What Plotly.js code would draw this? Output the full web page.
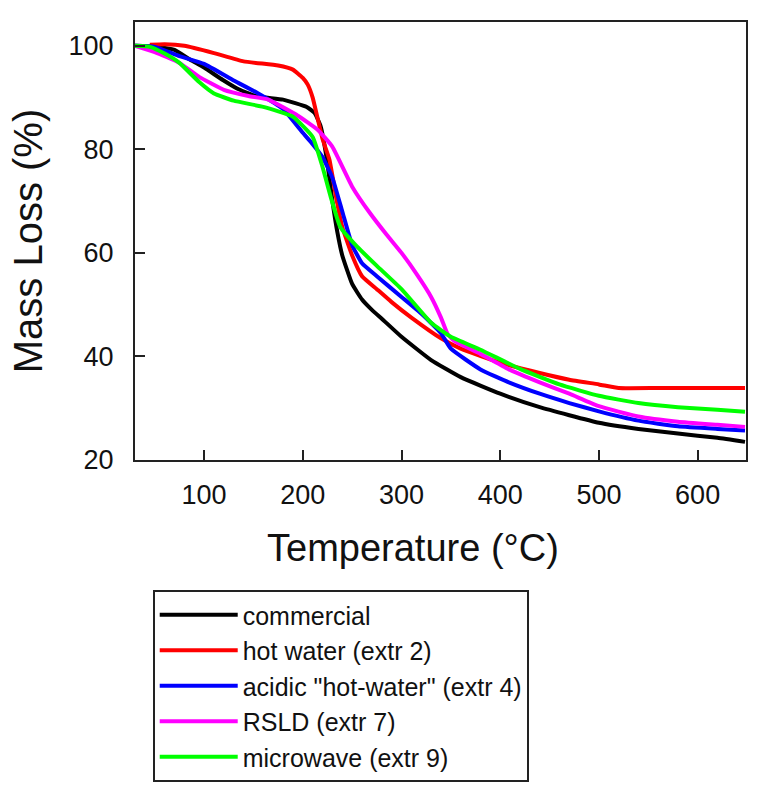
<!DOCTYPE html>
<html>
<head>
<meta charset="utf-8">
<script src="https://cdn.plot.ly/plotly-3.0.1.min.js"></script>
<style>body{margin:0;padding:0;background:#fff}#chart{width:761px;height:789px}</style>
</head>
<body>
<div id="chart"></div>
<script>
// Series names
var seriesNames = ["commercial", "hot water (extr 2)", "acidic \"hot-water\" (extr 4)", "RSLD (extr 7)", "microwave (extr 9)"];

// commercial
var commercialT = [30,50,70,86,100,119,135,154,180,204,212,218,224,230,235,240,250,260,270,280,300,330,360,400,440,500,540,580,620,648];
var commercialM = [100,99.8,99.2,97.3,95.8,93.4,91.6,90.2,89.6,88.2,87,84.5,78.5,70,64,59.5,54,51,49,47.3,43.8,39.3,36,32.8,30.2,27.2,26,25.1,24.3,23.5];

// hot water (extr 2)
var hotWaterT = [45,60,80,110,140,175,190,200,205,210,215,220,227,234,240,250,260,275,290,310,340,360,400,440,470,500,520,560,600,648];
var hotWaterM = [100.2,100.3,100,98.6,97,96.2,95.4,93.8,92.5,90,86,82,78,70.5,65,59.5,55.5,53,50.5,47.5,43.5,41.5,38.8,36.8,35.5,34.6,33.9,33.9,33.9,33.9];

// acidic "hot-water" (extr 4)
var acidicT = [30,50,75,100,130,154,180,200,210,220,230,240,250,260,275,300,320,340,350,380,410,440,470,500,540,580,620,648];
var acidicM = [100,99.8,98,96.5,93.3,90.9,87.8,83.2,81,78.5,74.5,68,61.5,58,55.5,51.5,48.3,44.5,41.5,37.5,34.9,32.8,31,29.4,27.6,26.5,26,25.7];

// RSLD (extr 7)
var rsldT = [30,50,75,95,120,145,165,195,215,230,250,268,285,300,315,330,340,347,355,380,410,440,470,500,540,580,620,648];
var rsldM = [100,98.8,96.7,94,91.5,90.3,89.6,86.5,83.8,80.5,72.8,67.7,63.5,60,56,51.5,47.5,44.2,42.8,40.5,37.4,35,32.8,30.4,28.4,27.4,26.8,26.4];

// microwave (extr 9)
var microT = [30,45,60,75,95,110,130,160,190,210,220,228,238,255,275,300,330,350,380,420,460,500,540,580,620,648];
var microM = [100,99.8,98.5,96.7,93,90.8,89.4,88.2,86.3,82.4,76.6,71,65,61.2,57.5,53,46.5,43.8,41.3,37.6,34.6,32.4,31,30.2,29.7,29.3];

var xTicks = [100,200,300,400,500,600];
var yTicks = [20,40,60,80,100];
var xTitle = "Temperature (°C)";
var yTitle = "Mass Loss (%)";

var colors = ["#000000", "#ff0000", "#0000ff", "#ff00ff", "#00ff00"];
var xs = [commercialT, hotWaterT, acidicT, rsldT, microT];
var ys = [commercialM, hotWaterM, acidicM, rsldM, microM];

var traces = [];
for (var i = 0; i < 5; i++) {
  traces.push({
    x: xs[i], y: ys[i], type: "scatter", mode: "lines", name: seriesNames[i],
    line: {color: colors[i], width: 4, shape: "spline", smoothing: 0.4}
  });
}

var layout = {
  width: 761, height: 789,
  margin: {l: 135, r: 15, t: 22, b: 329, autoexpand: false},
  paper_bgcolor: "#ffffff", plot_bgcolor: "#ffffff",
  font: {family: "Liberation Sans, Arial, sans-serif", color: "#111"},
  showlegend: true,
  legend: {
    x: 0.029, y: -0.297, xanchor: "left", yanchor: "top",
    bordercolor: "#222", borderwidth: 2, bgcolor: "#fff",
    font: {size: 25, family: "Liberation Sans, Arial, sans-serif", color: "#111"},
    tracegroupgap: 0, itemwidth: 78
  },
  xaxis: {
    range: [30, 649], tickvals: xTicks, ticks: "inside", ticklen: 10, tickwidth: 2, tickcolor: "#222",
    showline: true, linewidth: 2, linecolor: "#222", mirror: true, showgrid: false, zeroline: false,
    tickfont: {size: 27}, ticklabelstandoff: 10
  },
  yaxis: {
    range: [20, 104.6], tickvals: yTicks, ticks: "inside", ticklen: 10, tickwidth: 2, tickcolor: "#222",
    showline: true, linewidth: 2, linecolor: "#222", mirror: true, showgrid: false, zeroline: false,
    tickfont: {size: 27}, ticklabelstandoff: 14,
    title: {text: yTitle, font: {size: 40}, standoff: 14}
  },
  annotations: [{
    text: xTitle, xref: "paper", yref: "paper", x: 0.455, y: -0.201,
    xanchor: "center", yanchor: "middle", showarrow: false,
    font: {size: 38, family: "Liberation Sans, Arial, sans-serif", color: "#111"}
  }]
};

Plotly.newPlot("chart", traces, layout, {displayModeBar: false, staticPlot: true});
</script>
</body>
</html>
